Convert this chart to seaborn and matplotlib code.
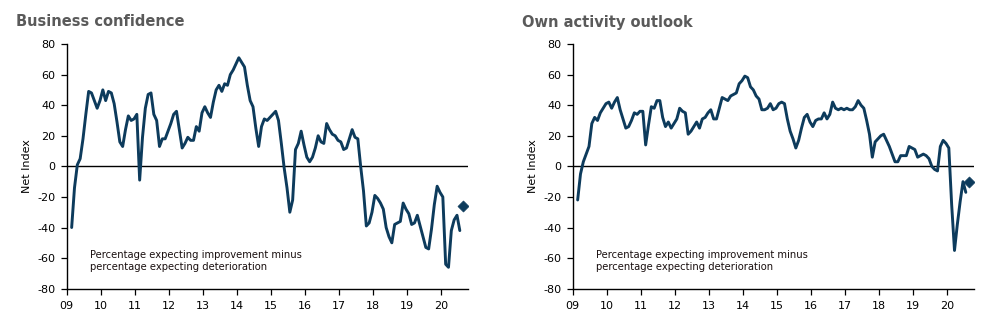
import numpy as np
import pandas as pd
import matplotlib
matplotlib.use("Agg")
import matplotlib.pyplot as plt
import seaborn as sns

# ---- data (monthly, starting March 2009) ----
start_month = 2  # months after Jan 2009
business_confidence = [
    -40, -14, 1, 5, 18, 34, 49, 48, 43, 38,            # 2009 Mar-Dec
    43, 50, 43, 49, 48, 41, 29, 16, 13, 24, 33, 30,    # 2010
    31, 34, -9, 19, 38, 47, 48, 34, 30, 13, 18, 18,    # 2011
    23, 28, 34, 36, 24, 12, 15, 19, 17, 17, 26, 23,    # 2012
    35, 39, 35, 32, 42, 50, 53, 49, 54, 53, 60, 63,    # 2013
    67, 71, 68, 65, 53, 43, 39, 25, 13, 26, 31, 30,    # 2014
    32, 34, 36, 30, 15, -1, -14, -30, -22, 11, 15, 23, # 2015
    14, 6, 3, 6, 12, 20, 16, 15, 28, 24, 21, 20,       # 2016
    17, 16, 11, 12, 18, 24, 19, 18, 0, -16, -39, -37,  # 2017
    -30, -19, -21, -24, -28, -40, -46, -50, -38, -37, -36, -24,  # 2018
    -28, -31, -38, -37, -32, -39, -46, -53, -54, -41, -25, -13,  # 2019
    -17, -20, -64, -66, -42, -35, -32, -42,            # 2020 Jan-Aug
]
own_activity = [
    -22, -5, 3, 8, 13, 28, 32, 30, 35, 38,             # 2009 Mar-Dec
    41, 42, 38, 42, 45, 37, 31, 25, 26, 30, 35, 34,    # 2010
    36, 36, 14, 27, 39, 38, 43, 43, 32, 26, 29, 25,    # 2011
    28, 31, 38, 36, 35, 21, 23, 26, 29, 25, 31, 32,    # 2012
    35, 37, 31, 31, 38, 45, 44, 43, 46, 47, 48, 54,    # 2013
    56, 59, 58, 52, 50, 46, 44, 37, 37, 38, 41, 37,    # 2014
    38, 41, 42, 41, 31, 23, 18, 12, 17, 25, 32, 34,    # 2015
    29, 26, 30, 31, 31, 35, 31, 34, 42, 38, 37, 38,    # 2016
    37, 38, 37, 37, 39, 43, 40, 38, 30, 21, 6, 16,     # 2017
    18, 20, 21, 17, 13, 8, 3, 3, 7, 7, 7, 13,          # 2018
    12, 11, 6, 7, 8, 7, 5, 0, -2, -3, 13, 17,          # 2019
    15, 12, -25, -55, -38, -23, -10, -17,              # 2020 Jan-Aug
]
bc_forecast = -26   # September 2020 (diamond)
oa_forecast = -10

titles = ["Business confidence", "Own activity outlook"]
year_ticks = list(range(2009, 2021))
year_labels = ["09", "10", "11", "12", "13", "14", "15", "16", "17", "18", "19", "20"]
y_ticks = [80, 60, 40, 20, 0, -20, -40, -60, -80]
note = "Percentage expecting improvement minus\npercentage expecting deterioration"

# ---- build frames ----
n = len(business_confidence)
months = start_month + np.arange(n)
xvals = 2009 + (months - 0.25) / 12.0
x_fc = 2009 + (start_month + n - 0.25) / 12.0

frames = [
    pd.DataFrame({"x": xvals, "v": business_confidence}),
    pd.DataFrame({"x": xvals, "v": own_activity}),
]
fc_frames = [
    pd.DataFrame({"x": [x_fc], "v": [bc_forecast]}),
    pd.DataFrame({"x": [x_fc], "v": [oa_forecast]}),
]

sns.set_theme(style="ticks")
plt.rcParams["font.family"] = ["DejaVu Sans"]

W, H = 999, 321
fig = plt.figure(figsize=(W / 100, H / 100), dpi=100)

line_color = "#0d3b5c"
lefts = [66.7, 572.7]
ax_w = 401.5
top_px, bot_px = 44.0, 288.7

for i in range(2):
    ax = fig.add_axes([lefts[i] / W, 1 - bot_px / H, ax_w / W, (bot_px - top_px) / H])
    ax.axhline(0, color="black", lw=1.0, zorder=1)
    sns.lineplot(data=frames[i], x="x", y="v", ax=ax, color=line_color,
                 lw=2.1, zorder=3)
    sns.scatterplot(data=fc_frames[i], x="x", y="v", ax=ax, color=line_color,
                    marker="D", s=32, edgecolor=line_color, zorder=4)
    ax.set_xlim(2009, 2009 + ax_w / 34.0)
    ax.set_ylim(-80, 80)
    ax.set_xticks(year_ticks)
    ax.set_xticklabels(year_labels)
    ax.set_yticks(y_ticks)
    ax.set_yticklabels([str(t) for t in y_ticks])
    ax.tick_params(axis="both", direction="out", length=4, width=0.9,
                   colors="black", labelsize=8, pad=4)
    ax.tick_params(axis="x", pad=5)
    for s in ["top", "right"]:
        ax.spines[s].set_visible(False)
    for s in ["left", "bottom"]:
        ax.spines[s].set_color("black")
        ax.spines[s].set_linewidth(1.0)
    ax.set_xlabel("")
    ax.set_ylabel("Net Index", fontsize=8, labelpad=4, color="black")
    ax.text(0.057, 0.112, note, transform=ax.transAxes, fontsize=7.2,
            color="#1a1010", va="center", ha="left", linespacing=1.25)
    fig.text((lefts[i] - 51) / W, 1 - 22 / H, titles[i], fontsize=10.5,
             fontweight="bold", color="#5a5a5a", ha="left", va="center")

fig.savefig("out.png", dpi=100)
